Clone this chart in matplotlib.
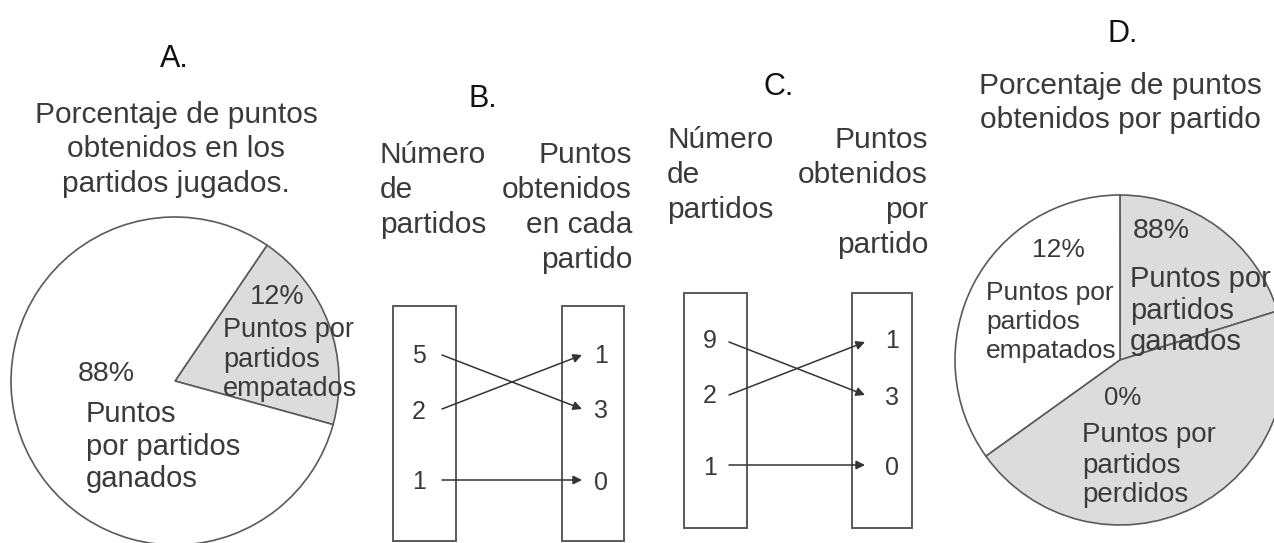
import matplotlib
matplotlib.use('Agg')
import matplotlib.pyplot as plt
from matplotlib.patches import Rectangle

plt.rcParams['font.family'] = ['Liberation Sans', 'DejaVu Sans']

# pie A: slice sizes as drawn (gray, white) and their printed labels
sizes_a = [19.8, 80.2]
pct_a = ['12%', '88%']
# pie D: ganados, empatados, perdidos (as drawn) and printed labels
sizes_d = [20.2, 34.9, 44.9]
pct_d = ['88%', '12%', '0%']

# B and C: partidos -> puntos
partidos_b = [5, 2, 1]
puntos_b = [1, 3, 0]
partidos_c = [9, 2, 1]
puntos_c = [1, 3, 0]
links = [(0, 1), (1, 0), (2, 2)]   # left row -> right row

TXT = '#3a3a3a'
EDGE = '#5a5a5a'
GRAY = '#dcdcdc'

fig = plt.figure(figsize=(12.74, 5.43), dpi=100)
ax = fig.add_axes([0, 0, 1, 1])


def lines(x, ys, txt, size=21, ha='left', color=TXT):
    for y, t in zip(ys, txt):
        ax.text(x, y, t, fontsize=size, ha=ha, va='baseline', color=color)


# ---- A ----
ax.text(174, 67, 'A.', fontsize=22, ha='center', va='baseline', color='#111111')
lines(176, [123, 157, 192], ['Porcentaje de puntos', 'obtenidos en los', 'partidos jugados.'],
      size=21.5, ha='center')
ax.pie(sizes_a, center=(175, 381), radius=164, startangle=15.4, counterclock=False,
       colors=[GRAY, 'white'], wedgeprops=dict(edgecolor=EDGE, linewidth=1.2))
ax.text(277, 304, pct_a[0], fontsize=19.5, ha='center', va='baseline', color=TXT)
lines(223, [337, 367, 396], ['Puntos por', 'partidos', 'empatados'], size=19.5)
ax.text(78, 381, pct_a[1], fontsize=20.5, ha='left', va='baseline', color=TXT)
lines(86, [422, 455, 487], ['Puntos', 'por partidos', 'ganados'], size=21)


# ---- B and C ----
def mapping(title, tx, ty, left_hdr, right_hdr, hx, hy, boxes, lx, rx, num_y, arr_y,
            ax0, ax1, left_vals, right_vals):
    ax.text(tx, ty, title, fontsize=22, ha='center', va='baseline', color='#111111')
    lines(hx[0], hy, left_hdr, size=21.5)
    lines(hx[1], hy, right_hdr, size=21.5, ha='right')
    for (x0, x1, y0, y1) in boxes:
        ax.add_patch(Rectangle((x0, y0), x1 - x0, y1 - y0, fill=False,
                               edgecolor=EDGE, linewidth=1.4))
    for i, v in enumerate(left_vals):
        ax.text(lx, num_y[0][i], str(v), fontsize=18, ha='center', va='baseline', color=TXT)
    for i, v in enumerate(right_vals):
        ax.text(rx, num_y[1][i], str(v), fontsize=18, ha='center', va='baseline', color=TXT)
    for a, b in links:
        ax.annotate('', xy=(ax1, arr_y[b]), xytext=(ax0, arr_y[a]),
                    arrowprops=dict(arrowstyle='-|>', color='#333333', lw=1.1,
                                    mutation_scale=13, shrinkA=0, shrinkB=0))


mapping('B.', 483, 107, ['Número', 'de', 'partidos'],
        ['Puntos', 'obtenidos', 'en cada', 'partido'], (380, 632), [163, 198, 233, 268],
        [(393, 456, 306, 541), (562, 624, 306, 541)], 419, 601,
        ([363, 419, 489], [363, 418, 490]), [355, 409, 480], 442, 582,
        partidos_b, puntos_b)

mapping('C.', 779, 95, ['Número', 'de', 'partidos'],
        ['Puntos', 'obtenidos', 'por', 'partido'], (667, 928), [148, 183, 218, 253],
        [(684, 747, 293, 528), (852, 912, 293, 528)], 710, 892,
        ([348, 403, 475], [348, 405, 475]), [342, 395, 465], 729, 865,
        partidos_c, puntos_c)

# ---- D ----
ax.text(1123, 42, 'D.', fontsize=22, ha='center', va='baseline', color='#111111')
lines(1120, [94, 128], ['Porcentaje de puntos', 'obtenidos por partido'], size=21.5, ha='center')
ax.pie(sizes_d, center=(1120, 360), radius=165, startangle=-17.3, counterclock=False,
       colors=[GRAY, 'white', GRAY], wedgeprops=dict(edgecolor=EDGE, linewidth=1.2))
ax.text(1133, 238, pct_d[0], fontsize=20.5, ha='left', va='baseline', color=TXT)
lines(1130, [287, 319, 350], ['Puntos por', 'partidos', 'ganados'], size=21)
ax.text(1058, 257, pct_d[1], fontsize=19, ha='center', va='baseline', color=TXT)
lines(986, [300, 329, 358], ['Puntos por', 'partidos', 'empatados'], size=19)
ax.text(1123, 405, pct_d[2], fontsize=18.5, ha='center', va='baseline', color=TXT)
lines(1082, [442, 473, 502], ['Puntos por', 'partidos', 'perdidos'], size=20)

ax.set_xlim(0, 1274)
ax.set_ylim(543, 0)
ax.set_aspect('equal')
ax.axis('off')

fig.savefig('out.png', dpi=100, facecolor='white')
